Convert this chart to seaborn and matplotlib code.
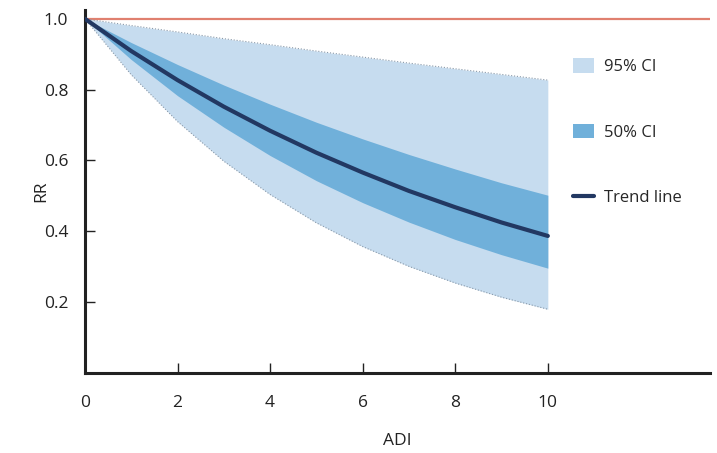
import matplotlib
matplotlib.use("Agg")
import matplotlib.pyplot as plt
import numpy as np
import pandas as pd
import seaborn as sns
from matplotlib.lines import Line2D
from matplotlib.patches import Patch

# values
adi = [0, 1, 2, 3, 4, 5, 6, 7, 8, 9, 10]
trend = [1.0, 0.909, 0.827, 0.752, 0.684, 0.622, 0.566, 0.514, 0.468, 0.425, 0.387]
ci95_low = [1.0, 0.842, 0.710, 0.598, 0.504, 0.424, 0.357, 0.301, 0.254, 0.214, 0.180]
ci95_high = [1.0, 0.981, 0.963, 0.944, 0.927, 0.909, 0.892, 0.875, 0.859, 0.843, 0.827]
ci50_low = [1.0, 0.885, 0.783, 0.694, 0.614, 0.543, 0.481, 0.426, 0.377, 0.334, 0.296]
ci50_high = [1.0, 0.933, 0.871, 0.813, 0.759, 0.708, 0.661, 0.617, 0.576, 0.537, 0.502]
y_ticks = [0.2, 0.4, 0.6, 0.8, 1.0]
x_ticks = [0, 2, 4, 6, 8, 10]

df = pd.DataFrame({"ADI": adi, "RR": trend, "lo95": ci95_low, "hi95": ci95_high,
                   "lo50": ci50_low, "hi50": ci50_high})

light = "#c6dcef"
mid = "#70b0da"
navy = "#223862"
red = "#e0806f"

sns.set_style("ticks")
plt.rcParams["font.family"] = ["Open Sans", "DejaVu Sans"]

fig = plt.figure(figsize=(7.17, 4.53), dpi=100)
ax = fig.add_axes([0.1185, 0.1766, 0.8715, 0.8014])

ax.axhline(1.0, color=red, lw=1.6, zorder=1)
ax.fill_between(df["ADI"], df["lo95"], df["hi95"], color=light, lw=0, zorder=2)
ax.plot(df["ADI"], df["lo95"], ls=":", color="#8a9aaa", lw=0.8, zorder=2)
ax.plot(df["ADI"], df["hi95"], ls=":", color="#8a9aaa", lw=0.8, zorder=2)
ax.fill_between(df["ADI"], df["lo50"], df["hi50"], color=mid, lw=0, zorder=3)
sns.lineplot(data=df, x="ADI", y="RR", color=navy, lw=3, ax=ax, zorder=4)

ax.set_xlim(0, 13.5)
ax.set_ylim(0, 1.025)
ax.set_xticks(x_ticks)
ax.set_yticks(y_ticks)
ax.set_yticklabels([f"{v:.1f}" for v in y_ticks])
ax.tick_params(direction="in", length=7, width=1, labelsize=12.5, pad=12, colors="#222222")
ax.tick_params(axis="x", pad=16)
for s in ["top", "right"]:
    ax.spines[s].set_visible(False)
for s in ["left", "bottom"]:
    ax.spines[s].set_linewidth(2.2)
    ax.spines[s].set_color("#222222")
ax.set_xlabel("ADI", fontsize=12.5, labelpad=16, color="#222222")
ax.set_ylabel("RR", fontsize=12.5, labelpad=-4, color="#222222")

handles = [
    Patch(facecolor=light, edgecolor="none", label="95% CI"),
    Patch(facecolor=mid, edgecolor="none", label="50% CI"),
    Line2D([0], [0], color=navy, lw=3, label="Trend line"),
]
ax.legend(handles=handles, loc="upper left", bbox_to_anchor=(0.778, 0.905),
          bbox_transform=fig.transFigure, frameon=False, fontsize=12,
          labelspacing=2.9, handlelength=1.3, handleheight=1.0, handletextpad=0.6)

fig.savefig("out.png", dpi=100)
